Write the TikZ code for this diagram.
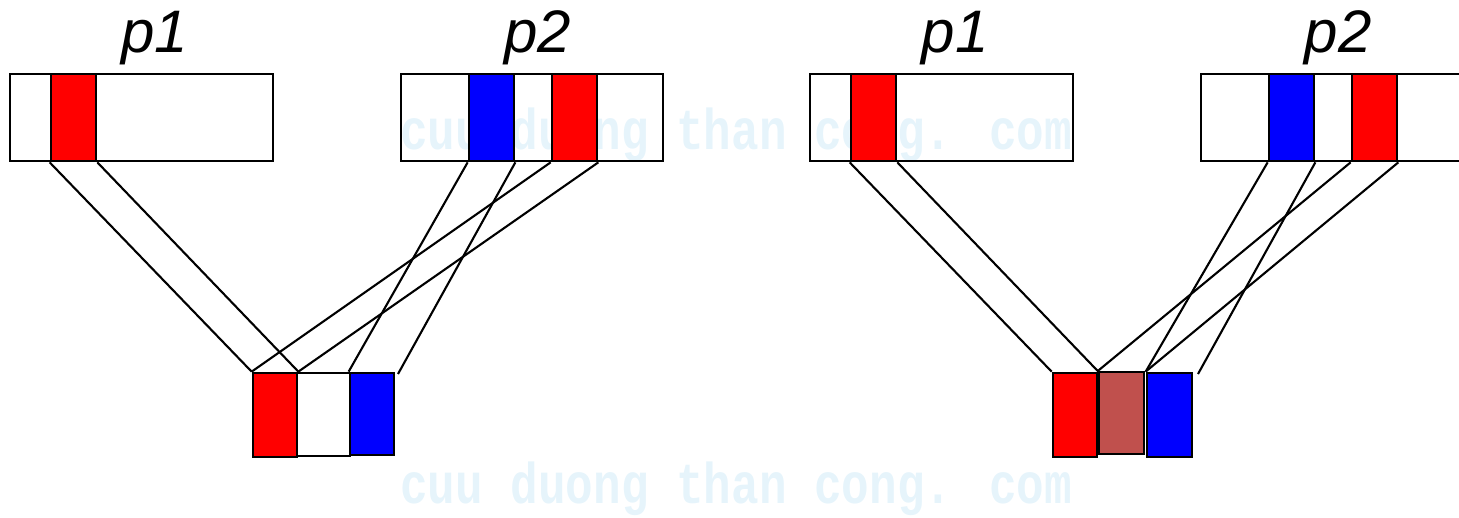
\documentclass[tikz,border=0pt]{standalone}
\usepackage{fontspec}
\setmainfont{Liberation Sans}
\newfontfamily\wmfont{Liberation Mono}
\definecolor{wmblue}{RGB}{230,244,251}
\definecolor{segred}{RGB}{255,0,0}
\definecolor{segblue}{RGB}{0,0,255}
\definecolor{segbrown}{RGB}{192,80,77}
\begin{document}
\begin{tikzpicture}[x=1pt,y=-1pt,
  box/.style={draw=black, line width=2.7pt, inner sep=0pt, minimum height=87pt},
  seg/.style={draw=black, line width=2.7pt, inner sep=0pt, minimum width=45pt, minimum height=87pt},
  low/.style={draw=black, line width=2.7pt, inner sep=0pt},
  link/.style={line width=2.1pt, black},
  lab/.style={anchor=base, inner sep=0pt, font=\fontsize{60}{72}\selectfont\itshape},
  wm/.style={anchor=base west, inner sep=0pt, text=wmblue, font=\wmfont\bfseries\fontsize{46}{50}\selectfont}
]
\useasboundingbox (0,0) rectangle (1459,518);
% watermark
\node[wm] (wm1) at (400,150) {\scalebox{1}[1.25]{cuu duong than cong. com}};
\node[wm] (wm2) at (400,503) {\scalebox{1}[1.25]{cuu duong than cong. com}};
% labels
\node[lab] (l1) at (155,53) {p1};
\node[lab] (l2) at (538,53) {p2};
\node[lab] (l3) at (955,53) {p1};
\node[lab] (l4) at (1338,53) {p2};
% parent boxes
\node[box, minimum width=263pt] (P1L) at (141.5,117.5) {};
\node[box, minimum width=262pt] (P2L) at (532,117.5) {};
\node[box, minimum width=263pt] (P1R) at (941.5,117.5) {};
\node[box, minimum width=262pt] (P2R) at (1332,117.5) {};
% coloured genes in parents
\node[seg, fill=segred]  (aR) at (73.5,117.5) {};
\node[seg, fill=segblue] (bB) at (491.5,117.5) {};
\node[seg, fill=segred]  (bR) at (574.5,117.5) {};
\node[seg, fill=segred]  (cR) at (873.5,117.5) {};
\node[seg, fill=segblue] (dB) at (1291.5,117.5) {};
\node[seg, fill=segred]  (dR) at (1374.5,117.5) {};
% offspring left
\node[low, fill=segred,  minimum width=44pt, minimum height=84pt] (oLr) at (275,415) {};
\node[low, minimum width=53pt, minimum height=83pt] (oLw) at (323.5,414.5) {};
\node[low, fill=segblue, minimum width=44pt, minimum height=82pt] (oLb) at (372,414) {};
% offspring right
\node[low, fill=segred,  minimum width=44pt, minimum height=84pt] (oRr) at (1075,415) {};
\node[low, fill=segbrown, line width=2.2pt, minimum width=45pt, minimum height=82pt] (oRm) at (1121.5,413) {};
\node[low, fill=segblue, minimum width=45pt, minimum height=84pt] (oRb) at (1169.5,415) {};
% free ends
\coordinate (fL) at (398,374);
\coordinate (fR) at (1198,374);
% connectors left
\draw[link] (aR.south west) -- (oLr.north west);
\draw[link] (aR.south east) -- (oLr.north east);
\draw[link] (bB.south west) -- (oLb.north west);
\draw[link] (bB.south east) -- (fL);
\draw[link] (bR.south west) -- (oLr.north west);
\draw[link] (bR.south east) -- (oLr.north east);
% connectors right
\draw[link] (cR.south west) -- (oRr.north west);
\draw[link] (cR.south east) -- (oRr.north east);
\draw[link] (dB.south west) -- (oRb.north west);
\draw[link] (dB.south east) -- (fR);
\draw[link] (dR.south west) -- (oRm.north west);
\draw[link] (dR.south east) -- (oRb.north west);
\end{tikzpicture}
\end{document}
